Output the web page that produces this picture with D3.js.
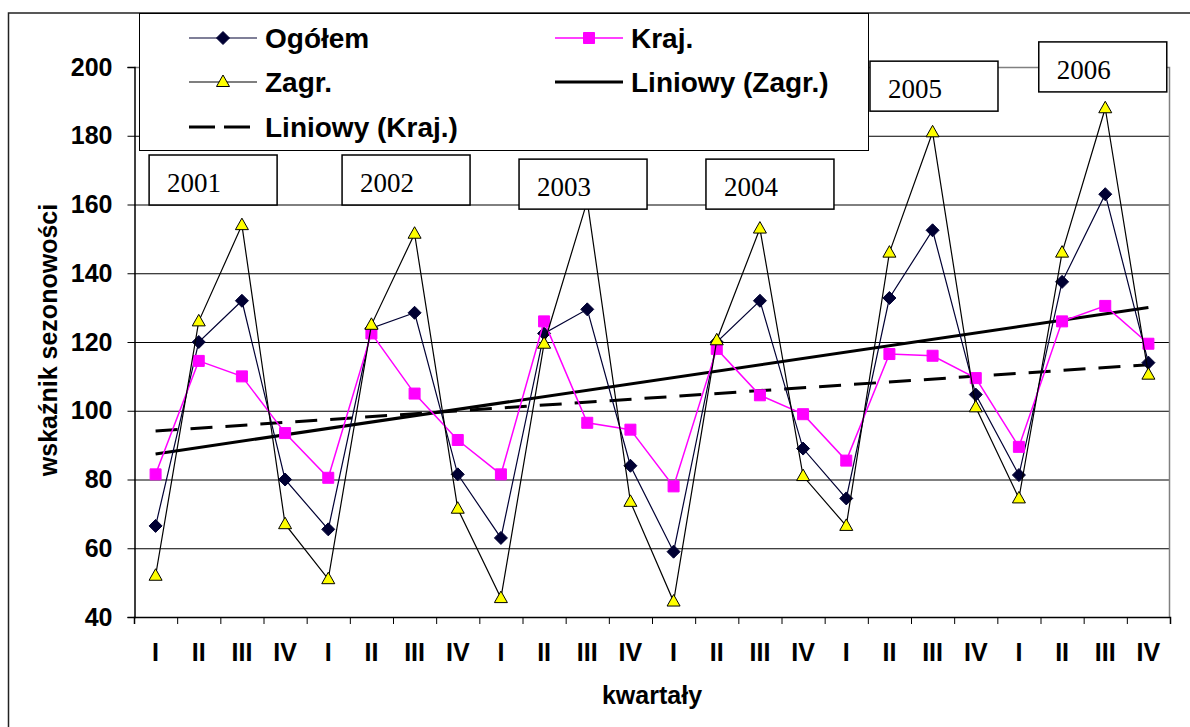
<!DOCTYPE html>
<html>
<head>
<meta charset="utf-8">
<script src="https://cdn.jsdelivr.net/npm/d3@7"></script>
<style>
  body { margin: 0; background: #fff; }
  svg { display: block; }
  text { font-family: "Liberation Sans", Arial, sans-serif; font-weight: bold; fill: #000; }
</style>
</head>
<body>
<div id="chart-container"></div>
<script>
// --- data ---
const quarters = ["I","II","III","IV","I","II","III","IV","I","II","III","IV",
                  "I","II","III","IV","I","II","III","IV","I","II","III","IV"];
const years = ["2001", "2002", "2003", "2004", "2005", "2006"];
const ogolem = [66.5, 120, 132, 80, 65.5, 124, 128.5, 81.5, 63, 122.5, 129.5, 84,
                59, 120, 132, 89, 74.5, 132.8, 152.5, 104.7, 81.3, 137.5, 163, 114];
const kraj = [81.5, 114.5, 110, 93.5, 80.5, 122.5, 105, 91.5, 81.5, 126, 96.5, 94.5,
              78, 118, 104.5, 99, 85.5, 116.5, 116, 109.5, 89.5, 126, 130.5, 119.5];
const zagr = [52, 126, 154, 67, 51, 125, 151.5, 71.5, 45.5, 119.5, 161, 73.5,
              44.5, 120.5, 153, 81, 66.5, 146, 181, 101, 74.5, 146, 188, 110.5];
const yTicks = [40, 60, 80, 100, 120, 140, 160, 180, 200];

// year text boxes: left edge in quarter units, top edge in value units
const yearBoxAt = [[0.35, 174.4], [4.82, 174.4], [8.92, 173.2], [13.25, 173.2], [17.05, 201.7], [20.96, 207.3]];

// --- setup ---
const width = 1190, height = 727;
const margin = { top: 67, right: 20, bottom: 110, left: 134 };
const plotW = width - margin.left - margin.right;
const plotH = height - margin.top - margin.bottom;

const svg = d3.select("#chart-container").append("svg")
  .attr("width", width).attr("height", height);

// outer frame (only left and top edges show)
svg.append("path")
  .attr("d", `M8.5,${height}V13H${width}`)
  .attr("fill", "none").attr("stroke", "#222").attr("stroke-width", 1.5);

const x = d3.scaleBand().domain(d3.range(quarters.length))
  .range([margin.left, margin.left + plotW]);
const xLin = d3.scaleLinear().domain([0, quarters.length])
  .range([margin.left, margin.left + plotW]);
const y = d3.scaleLinear().domain([40, 200]).range([margin.top + plotH, margin.top]);
const cx = i => x(i) + x.bandwidth() / 2;

// gridlines
svg.append("g")
  .attr("transform", `translate(${margin.left},0)`)
  .call(d3.axisLeft(y).tickValues(yTicks.slice(1, -1)).tickSize(-plotW).tickFormat(""))
  .call(g => g.select(".domain").remove())
  .call(g => g.selectAll("line").attr("stroke", "#000").attr("stroke-width", 1));

// plot area border top/right (grey)
svg.append("path")
  .attr("d", `M${margin.left},${y(200) + 0.5}H${margin.left + plotW - 0.5}V${y(40)}`)
  .attr("fill", "none").attr("stroke", "#808080").attr("stroke-width", 1.5);

// y axis
svg.append("g")
  .attr("transform", `translate(${margin.left + 0.5},0)`)
  .call(d3.axisLeft(y).tickValues(yTicks).tickSize(7).tickPadding(15))
  .call(g => g.select(".domain").attr("stroke", "#000").attr("stroke-width", 1.5))
  .call(g => g.selectAll("text").style("font-size", "25px"));

// x axis: ticks between categories
svg.append("g")
  .attr("transform", `translate(0,${y(40)})`)
  .call(d3.axisBottom(xLin).tickValues(d3.range(quarters.length + 1)).tickSize(7).tickFormat(""))
  .call(g => g.select(".domain").attr("stroke", "#000").attr("stroke-width", 1.5));

svg.append("g")
  .attr("transform", `translate(0,${y(40)})`)
  .call(d3.axisBottom(x).tickSize(0).tickPadding(26).tickFormat(i => quarters[i]))
  .call(g => g.select(".domain").remove())
  .call(g => g.selectAll("text").style("font-size", "25px"));

// axis titles
svg.append("text")
  .attr("transform", `translate(57,${margin.top + plotH / 2 - 2}) rotate(-90)`)
  .attr("text-anchor", "middle").style("font-size", "25px")
  .text("wskaźnik sezonowości");

svg.append("text")
  .attr("x", margin.left + plotW / 2).attr("y", 704)
  .attr("text-anchor", "middle").style("font-size", "25px")
  .text("kwartały");

// linear trends (least squares, like Excel's "Liniowy")
function trend(vals) {
  const n = vals.length, xs = d3.range(1, n + 1);
  const mx = d3.mean(xs), my = d3.mean(vals);
  const b = d3.sum(xs, (t, i) => (t - mx) * (vals[i] - my)) / d3.sum(xs, t => (t - mx) ** 2);
  return [0, n - 1].map(i => ({ i, v: my + b * (i + 1 - mx) }));
}
const trendLine = d3.line().x(d => cx(d.i)).y(d => y(d.v));

svg.append("path").datum(trend(zagr))
  .attr("d", trendLine).attr("fill", "none")
  .attr("stroke", "#000").attr("stroke-width", 3);
svg.append("path").datum(trend(kraj))
  .attr("d", trendLine).attr("fill", "none")
  .attr("stroke", "#000").attr("stroke-width", 3).attr("stroke-dasharray", "22,13");

// series
const line = d3.line().x((d, i) => cx(i)).y(d => y(d));
const diamond = "M0,-6.5L6.5,0L0,6.5L-6.5,0Z";
const square = "M-5.5,-5.5H5.5V5.5H-5.5Z";
const triangle = "M0,-7L6.5,4.5L-6.5,4.5Z";

const series = [
  { name: "Ogółem", vals: ogolem, stroke: "#000033", lw: 1.2, shape: diamond, fill: "#000033", mstroke: "#000033" },
  { name: "Kraj.", vals: kraj, stroke: "#ff00ff", lw: 1.5, shape: square, fill: "#ff00ff", mstroke: "#ff00ff" },
  { name: "Zagr.", vals: zagr, stroke: "#000", lw: 1.2, shape: triangle, fill: "#ffff00", mstroke: "#000" }
];

series.forEach(s => {
  const g = svg.append("g");
  g.append("path").datum(s.vals).attr("d", line)
    .attr("fill", "none").attr("stroke", s.stroke).attr("stroke-width", s.lw);
  g.selectAll("path.m").data(s.vals).enter().append("path")
    .attr("class", "m")
    .attr("transform", (d, i) => `translate(${cx(i)},${y(d)})`)
    .attr("d", s.shape).attr("fill", s.fill).attr("stroke", s.mstroke).attr("stroke-width", 1);
});

// year boxes
const boxes = svg.append("g");
years.forEach((yr, k) => {
  const [qi, v] = yearBoxAt[k];
  const bx = xLin(qi), by = y(v);
  boxes.append("rect").attr("x", bx).attr("y", by).attr("width", 128).attr("height", 50)
    .attr("fill", "#fff").attr("stroke", "#000").attr("stroke-width", 1.5);
  boxes.append("text").attr("x", bx + 18).attr("y", by + 37)
    .style("font-family", '"Liberation Serif", "Times New Roman", serif')
    .style("font-weight", "normal").style("font-size", "27px")
    .text(yr);
});

// legend
const lg = svg.append("g");
lg.append("rect").attr("x", 139.5).attr("y", 13.5).attr("width", 729).attr("height", 137)
  .attr("fill", "#fff").attr("stroke", "#000").attr("stroke-width", 1);

const legendItems = [
  { label: "Ogółem", col: 0, row: 0, s: series[0] },
  { label: "Kraj.", col: 1, row: 0, s: series[1] },
  { label: "Zagr.", col: 0, row: 1, s: series[2] },
  { label: "Liniowy (Zagr.)", col: 1, row: 1, trend: "solid" },
  { label: "Liniowy (Kraj.)", col: 0, row: 2, trend: "dash" }
];
const colX = [189, 555], rowY = [38, 82, 127];
legendItems.forEach(it => {
  const x0 = colX[it.col], yy = rowY[it.row];
  if (it.s) {
    lg.append("line").attr("x1", x0).attr("x2", x0 + 68).attr("y1", yy).attr("y2", yy)
      .attr("stroke", it.s.stroke).attr("stroke-width", it.s.lw);
    lg.append("path").attr("transform", `translate(${x0 + 34},${yy})`)
      .attr("d", it.s.shape).attr("fill", it.s.fill).attr("stroke", it.s.mstroke);
  } else {
    lg.append("line").attr("x1", x0).attr("x2", x0 + (it.trend === "dash" ? 62 : 68))
      .attr("y1", yy).attr("y2", yy)
      .attr("stroke", "#000").attr("stroke-width", 3)
      .attr("stroke-dasharray", it.trend === "dash" ? "26,9" : null);
  }
  lg.append("text").attr("x", x0 + 76).attr("y", yy + 10)
    .style("font-size", "28px").text(it.label);
});
</script>
</body>
</html>
